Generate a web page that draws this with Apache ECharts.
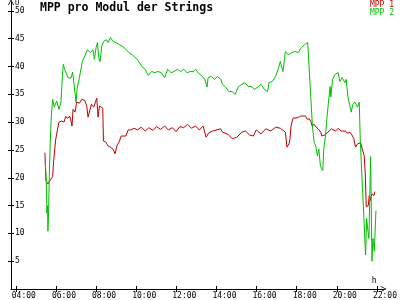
<!DOCTYPE html>
<html><head><meta charset="utf-8">
<script src="https://cdn.jsdelivr.net/npm/echarts@6/dist/echarts.min.js"></script>
<style>html,body{margin:0;padding:0;background:#fff}#c{width:400px;height:300px}</style>
</head><body><div id="c"></div>
<script>
var titleText = 'MPP pro Modul der Strings';
var seriesNames = ['MPP 1', 'MPP 2'];
var xTickHours = [4, 6, 8, 10, 12, 14, 16, 18, 20, 22];
var yTickValues = [0, 5, 10, 15, 20, 25, 30, 35, 40, 45, 50];

var mpp1Times = ['05:27','05:28','05:30','05:36','05:43','05:50','05:53','05:59','06:05','06:09','06:17','06:24','06:29','06:36','06:41','06:45','06:48','06:51','06:57','07:02','07:10','07:17','07:26','07:32','07:36','07:41','07:46','07:53','07:58','08:02','08:06','08:10','08:15','08:20','08:22','08:29','08:36','08:46','08:52','08:57','09:02','09:10','09:15','09:29','09:36','09:44','09:53','10:04','10:15','10:27','10:38','10:50','11:01','11:13','11:25','11:36','11:48','11:59','12:11','12:22','12:34','12:45','12:57','13:09','13:20','13:29','13:37','13:49','14:12','14:18','14:35','14:47','15:01','15:16','15:27','15:39','15:50','15:59','16:13','16:28','16:42','16:57','17:11','17:26','17:31','17:37','17:40','17:43','17:49','17:54','18:03','18:12','18:17','18:26','18:32','18:38','18:43','18:46','18:52','18:58','19:04','19:12','19:15','19:24','19:30','19:35','19:44','19:56','20:04','20:13','20:25','20:33','20:39','20:45','20:51','20:56','21:02','21:11','21:16','21:22','21:25','21:28','21:34','21:37','21:40','21:45','21:51','21:54'];
var mpp1Values = [24.5,22.9,19.5,18.9,19.6,20.2,22.9,26.8,28.8,30.0,30.2,30.0,31.0,30.7,31.1,30.2,29.3,32.3,31.8,33.6,33.4,34.1,33.9,32.9,30.9,31.1,33.2,32.7,32.9,34.3,30.9,32.9,33.2,32.5,26.6,26.4,25.7,25.4,25.0,24.3,25.7,26.6,27.5,27.5,28.6,28.6,28.9,28.6,29.1,28.4,29.0,28.5,29.2,28.7,29.3,28.6,29.0,28.3,29.2,29.0,29.6,28.9,29.3,28.6,29.3,27.3,28.1,28.4,28.8,28.2,27.8,27.0,27.3,28.2,28.4,27.7,27.5,28.6,27.9,28.8,28.4,29.1,28.9,28.2,25.5,26.1,27.0,29.3,30.7,30.4,30.8,31.1,30.9,31.1,30.5,30.6,30.0,29.3,29.6,29.1,28.8,28.2,27.5,27.7,28.0,28.2,28.8,28.4,28.9,28.4,28.4,28.0,28.2,27.7,27.0,25.5,26.1,26.3,26.1,23.9,20.7,14.8,15.0,16.8,15.9,17.1,16.8,17.5];

var mpp2Times = ['05:28','05:31','05:33','05:35','05:36','05:38','05:40','05:43','05:46','05:50','05:55','06:02','06:09','06:15','06:19','06:22','06:26','06:36','06:45','06:50','06:55','07:00','07:03','07:10','07:19','07:24','07:29','07:34','07:43','07:51','07:55','08:00','08:04','08:08','08:12','08:17','08:22','08:31','08:36','08:43','08:51','09:00','09:10','09:20','09:29','09:38','09:48','10:03','10:17','10:27','10:36','10:46','10:56','11:05','11:15','11:25','11:34','11:44','11:53','12:03','12:13','12:22','12:32','12:42','12:51','12:58','13:06','13:15','13:20','13:25','13:32','13:35','13:44','13:54','14:03','14:13','14:18','14:27','14:37','14:47','14:56','15:06','15:16','15:25','15:35','15:44','15:54','16:04','16:13','16:23','16:33','16:37','16:47','16:57','17:06','17:11','17:19','17:26','17:30','17:35','17:45','17:54','18:04','18:14','18:23','18:33','18:38','18:42','18:47','18:52','18:57','19:02','19:06','19:11','19:18','19:21','19:26','19:30','19:35','19:40','19:42','19:47','19:55','20:04','20:09','20:16','20:24','20:28','20:33','20:38','20:43','20:48','20:54','21:02','21:07','21:10','21:14','21:21','21:26','21:29','21:33','21:36','21:41','21:42','21:45','21:48','21:52','21:57'];
var mpp2Values = [23.0,19.5,13.6,15.0,10.4,13.9,20.2,26.6,30.9,34.1,32.7,33.8,32.3,33.6,38.0,40.4,39.5,38.0,37.9,39.0,36.3,33.6,35.9,38.0,40.9,41.6,41.3,43.0,42.5,43.0,41.3,43.4,44.3,41.6,40.9,43.6,44.5,44.8,44.3,45.2,44.5,44.3,43.9,43.6,43.1,42.5,42.1,41.3,40.0,39.5,38.4,39.1,38.9,39.1,38.9,38.0,39.5,38.9,39.1,39.5,39.1,39.5,38.9,39.1,39.1,39.5,38.8,38.4,38.2,37.7,36.3,38.0,38.2,37.7,38.2,37.7,36.8,36.3,35.5,35.5,35.0,36.4,36.8,37.1,36.4,36.4,35.9,36.3,36.8,35.9,35.5,37.1,37.3,38.2,39.8,40.9,39.1,42.7,43.0,42.1,42.5,42.7,42.5,43.4,43.9,44.3,38.9,34.6,29.3,26.4,25.7,23.9,25.2,22.1,21.3,25.2,27.5,30.5,33.6,36.4,34.5,37.7,38.6,38.9,37.3,38.0,37.1,37.7,34.6,33.2,31.8,33.2,33.6,32.7,33.6,27.0,21.6,12.7,6.1,12.7,10.4,9.1,23.8,19.8,5.0,9.1,6.8,14.1];

function toHours(s){var p=s.split(':');return +p[0]+(+p[1])/60;}
function pairs(ts,vs){return ts.map(function(t,i){return [toHours(t),vs[i]];});}
function hhmm(v){var h=Math.round(v);return (h<10?'0':'')+h+':00';}

var FONT='DejaVu Sans Mono';
var RED='#c00000', GREEN='#00c000';
var xMin=3.759, xMax=22.335, yMax=51.6;
var arrowUp='path://M0,10L5,0L10,10L8.6,10L5,2.8L1.4,10Z';

var chart=echarts.init(document.getElementById('c'),null,{renderer:'canvas'});
chart.setOption({
  animation:false,
  backgroundColor:'#fff',
  title:{text:titleText,left:40,top:2,padding:0,
    textStyle:{fontFamily:FONT,fontWeight:'bold',fontSize:11.5,color:'#000'}},
  legend:{orient:'vertical',right:6,top:1,padding:0,itemGap:0,itemWidth:0,itemHeight:8,
    icon:'none',selectedMode:false,
    data:[{name:seriesNames[0],textStyle:{color:RED}},{name:seriesNames[1],textStyle:{color:GREEN}}],
    textStyle:{fontFamily:FONT,fontSize:8,lineHeight:8,padding:0}},
  grid:{left:11,right:3,top:2,bottom:9},
  xAxis:[{type:'value',min:xMin,max:xMax,position:'bottom',
    name:'h',nameLocation:'end',nameGap:-12,
    nameTextStyle:{fontFamily:FONT,fontSize:8,color:'#000',align:'left',verticalAlign:'bottom',padding:[0,0,4,0]},
    axisLine:{show:true,onZero:false,lineStyle:{color:'#000',width:1},symbol:['none',arrowUp],symbolSize:[7,6]},
    axisTick:{show:true,length:3,customValues:xTickHours,lineStyle:{color:'#000'}},
    axisLabel:{show:true,customValues:xTickHours,formatter:hhmm,margin:3,align:'center',padding:[0,0,0,16],
      fontFamily:FONT,fontSize:8,color:'#000'},
    splitLine:{show:false}},
   {type:'value',min:xMin,max:xMax,position:'bottom',
    axisLine:{show:false,onZero:false},
    axisTick:{show:true,inside:true,length:3,customValues:xTickHours,lineStyle:{color:'#000'}},
    axisLabel:{show:false},splitLine:{show:false}}],
  yAxis:[{type:'value',min:0,max:yMax,position:'left',
    name:'U',nameLocation:'end',nameGap:-1,
    nameTextStyle:{fontFamily:FONT,fontSize:7,color:'#000',align:'left',verticalAlign:'top',padding:[0,0,0,4]},
    axisLine:{show:true,onZero:false,lineStyle:{color:'#000',width:1},symbol:['none',arrowUp],symbolSize:[7,6]},
    axisTick:{show:true,length:3,customValues:yTickValues.slice(1),lineStyle:{color:'#000'}},
    axisLabel:{show:true,inside:true,margin:4,customValues:yTickValues.slice(1),
      fontFamily:FONT,fontSize:8,color:'#000'},
    splitLine:{show:false}},
   {type:'value',min:0,max:yMax,position:'left',
    axisLine:{show:false,onZero:false},
    axisTick:{show:true,inside:true,length:3,customValues:yTickValues.slice(1),lineStyle:{color:'#000'}},
    axisLabel:{show:false},splitLine:{show:false}}],
  series:[
    {name:seriesNames[0],type:'line',xAxisIndex:0,yAxisIndex:0,showSymbol:false,
      lineStyle:{color:RED,width:1},itemStyle:{color:RED},data:pairs(mpp1Times,mpp1Values)},
    {name:seriesNames[1],type:'line',xAxisIndex:0,yAxisIndex:0,showSymbol:false,
      lineStyle:{color:GREEN,width:1},itemStyle:{color:GREEN},data:pairs(mpp2Times,mpp2Values)}
  ]
});
</script></body></html>
